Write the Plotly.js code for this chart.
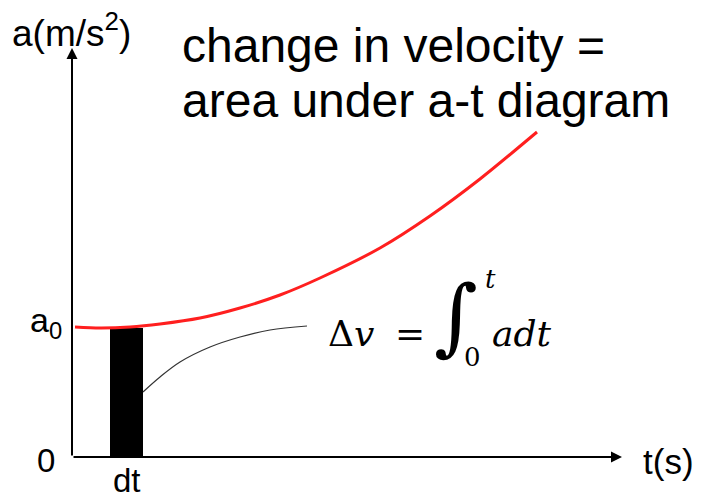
<!DOCTYPE html>
<html><head><meta charset="utf-8">
<script src="https://cdn.plot.ly/plotly-3.0.1.min.js"></script>
<style>html,body{margin:0;padding:0;background:#fff}#c{width:707px;height:497px}</style>
</head><body><div id="c"></div>
<script>
// acceleration curve (t, a) in drawing units, origin at axes corner
const curveT = [3, 28, 58, 88, 128, 168, 208, 248, 308, 358, 408, 465];
const curveA = [130, 129, 130, 133, 139, 149, 162, 179, 209, 241, 278, 325];
// the dt strip
const stripT = [54.5];
const stripW = [33];
const stripA = [129];
// connector from strip to formula
const linkT = [71, 88, 108, 138, 168, 198, 235];
const linkA = [65, 80, 95, 110, 120, 127, 131];
// axis extents
const tMax = 550, aMax = 409;

const sans = 'Liberation Sans, Arial, sans-serif';
const serif = 'DejaVu Serif, serif';

const data = [
  {type:'bar', x:stripT, y:stripA, width:stripW, marker:{color:'#000', line:{width:0}}, hoverinfo:'skip'},
  {type:'scatter', mode:'lines', x:curveT, y:curveA, line:{color:'#ff1f1f', width:3, shape:'spline', smoothing:0.8}, hoverinfo:'skip'},
  {type:'scatter', mode:'lines', x:linkT, y:linkA, line:{color:'#333', width:1.2, shape:'spline'}, hoverinfo:'skip'}
];

const ann = [];
function arrow(x, y){
  ann.push({x:x, y:y, ax:0, ay:0, axref:'x', ayref:'y', xref:'x', yref:'y', text:'', showarrow:true,
    arrowhead:2, arrowsize:1.1, arrowwidth:2, arrowcolor:'#000', standoff:0, startstandoff:0});
}
arrow(0, aMax);
arrow(tMax, 0);
function txt(text, x, y, size, xa, font, extra){
  ann.push(Object.assign({x:x, y:y, xref:'x', yref:'y', text:text, showarrow:false, xanchor:xa||'left', yanchor:'middle',
    font:{family:font||sans, size:size, color:'#000'}}, extra||{}));
}
txt('a(m/s<sup>2</sup>)', -62, 427, 37);
txt('change in velocity =', 108, 412, 48);
txt('area under a-t diagram', 108, 357, 48);
txt('a<sub>0</sub>', -44, 135, 34);
txt('0', -15, -3, 33, 'right');
txt('dt', 55, -23, 33, 'center');
txt('t(s)', 569, -4, 35);
txt('Δ<i>v</i>', 254, 124, 36, 'left', serif);
txt('=', 338, 124, 36, 'center', serif);
txt('<i>∫</i>', 384, 141, 84, 'center', serif);
txt('<i>t</i>', 418, 178, 26, 'center', serif);
txt('0', 400, 100, 26, 'center', serif);
txt('<i>adt</i>', 418, 124, 36, 'left', serif);

const layout = {
  width:707, height:497, margin:{l:0,r:0,t:0,b:0}, paper_bgcolor:'#fff', plot_bgcolor:'#fff',
  showlegend:false, bargap:0,
  xaxis:{range:[-72,635], visible:false, fixedrange:true},
  yaxis:{range:[-40,457], visible:false, fixedrange:true},
  annotations:ann
};
Plotly.newPlot('c', data, layout, {staticPlot:true});
</script></body></html>
